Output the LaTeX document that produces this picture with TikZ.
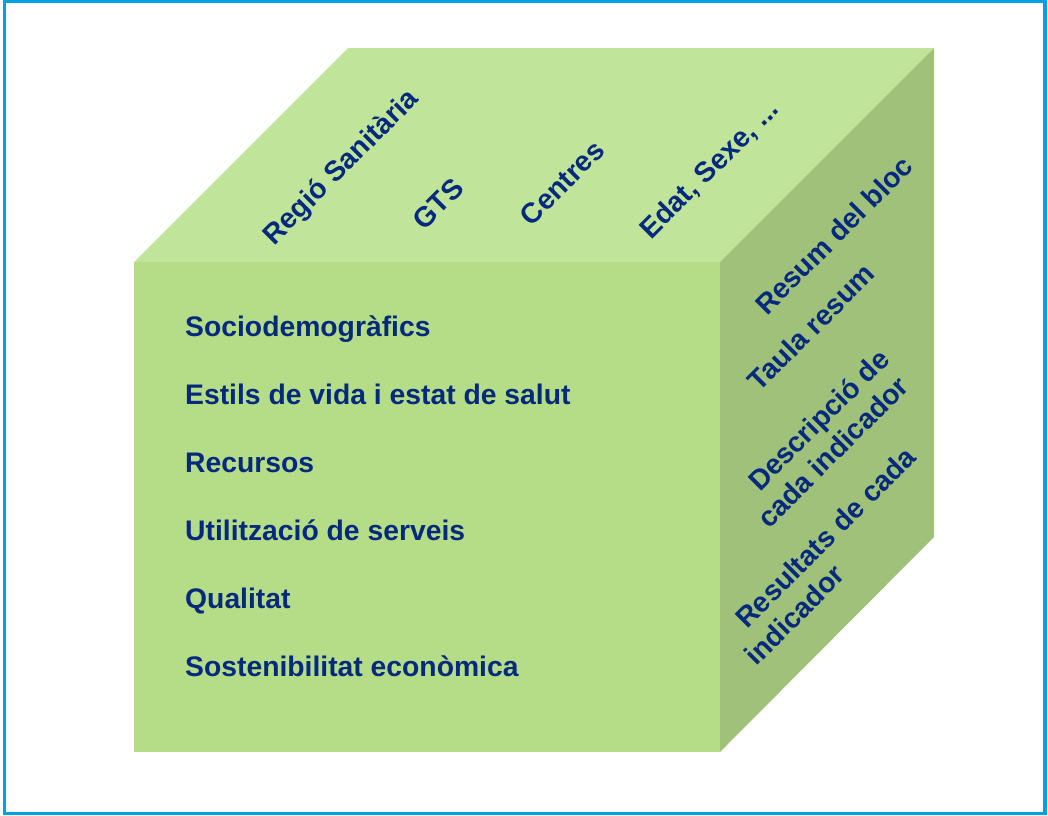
\documentclass[tikz,border=0pt]{standalone}
\usepackage{fontspec}
\setmainfont{Liberation Sans}
\definecolor{topface}{RGB}{193,228,155}
\definecolor{frontface}{RGB}{181,220,134}
\definecolor{rightface}{RGB}{160,193,122}
\definecolor{labelblue}{RGB}{5,42,125}
\definecolor{framecol}{RGB}{0,160,227}
\tikzset{
  lbl/.style={text=labelblue, font=\fontsize{28.3}{33}\selectfont\bfseries, inner sep=0pt},
  frontlbl/.style={lbl, anchor=base west},
  sidelbl/.style={lbl, anchor=center, rotate=45},
  multilbl/.style={sidelbl, align=left},
}
\begin{document}
\begin{tikzpicture}[x=1pt,y=-1pt]
\useasboundingbox (0,0) rectangle (1048,815);
% frame
\draw[framecol, line width=3.5pt] (4.5,1) rectangle (1045,813.5);
% cube faces
\fill[topface] (134,262) -- (348,48) -- (934,48) -- (720,262) -- cycle;
\fill[frontface] (134,262) rectangle (720,752);
\fill[rightface] (720,262) -- (934,48) -- (934,537) -- (720,752) -- cycle;
% top face labels
\node[sidelbl] (regio) at (342,168) {Regió Sanitària};
\node[sidelbl] (gts) at (438,204) {GTS};
\node[sidelbl] (centres) at (562,183) {Centres};
\node[sidelbl] (edat) at (710,170) {Edat, Sexe, ...};
% front face labels
\node[frontlbl] (socio) at (185,336) {Sociodemogràfics};
\node[frontlbl] (estils) at (185,404) {Estils de vida i estat de salut};
\node[frontlbl] (recursos) at (185,472) {Recursos};
\node[frontlbl] (utilitz) at (185,540) {Utilització de serveis};
\node[frontlbl] (qualitat) at (185,608) {Qualitat};
\node[frontlbl] (sosten) at (185,676) {Sostenibilitat econòmica};
% right face labels
\node[sidelbl] (resum) at (834,235) {Resum del bloc};
\node[sidelbl] (taula) at (811,327) {Taula resum};
\node[multilbl] (descr) at (823,438) {\hspace*{20pt}Descripció de\\cada indicador};
\node[multilbl] (result) at (830,556) {\hspace*{20pt}Resultats de cada\\indicador};
\end{tikzpicture}
\end{document}
